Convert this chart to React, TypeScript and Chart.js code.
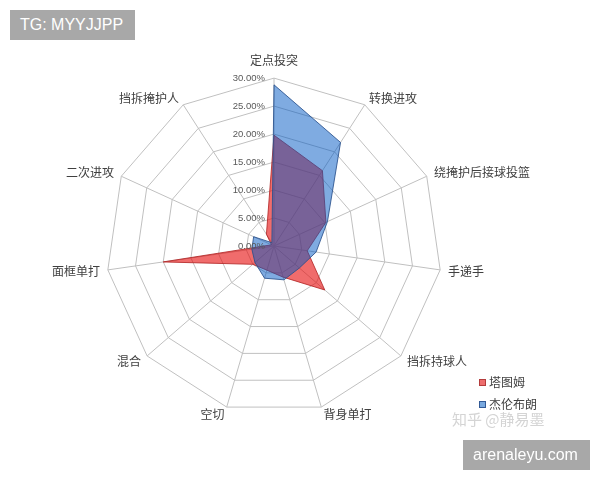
import React, { useEffect, useRef } from 'react';
import { Chart, registerables } from 'chart.js';

Chart.register(...registerables);

const categories = ['定点投突', '转换进攻', '绕掩护后接球投篮', '手递手', '挡拆持球人', '背身单打', '空切', '混合', '面框单打', '二次进攻', '挡拆掩护人'];
const seriesNames = ['塔图姆', '杰伦布朗'];
const tatumValues = [19.8, 16, 10.2, 6, 12, 5.8, 4.5, 5, 20, 0.5, 2.5];
const brownValues = [28.8, 22, 10.5, 7.6, 6, 6.3, 6, 4.5, 4, 4, 0.7];
const tickValues = [0, 5, 10, 15, 20, 25, 30];
const tickLabels = ['0.00%', '5.00%', '10.00%', '15.00%', '20.00%', '25.00%', '30.00%'];

const RED_FILL = 'rgba(230, 10, 10, 0.6)';
const RED_LINE = 'rgba(180, 40, 40, 0.85)';
const BLUE_FILL = 'rgba(0, 88, 196, 0.5)';
const BLUE_LINE = 'rgba(40, 80, 140, 0.85)';

const tickLabelPlugin = {
  id: 'tickLabelsLeft',
  afterDatasetsDraw(chart: any) {
    const scale = chart.scales.r;
    const ctx = chart.ctx;
    ctx.save();
    ctx.font = '9.5px "Liberation Sans", Arial, sans-serif';
    ctx.fillStyle = '#595959';
    ctx.textAlign = 'right';
    ctx.textBaseline = 'middle';
    tickValues.forEach((v, i) => {
      const d = scale.getDistanceFromCenterForValue(v);
      ctx.fillText(tickLabels[i], scale.xCenter - 9, scale.yCenter - d);
    });
    ctx.restore();
  },
};

function ChartCanvas() {
  const ref = useRef<HTMLCanvasElement | null>(null);
  useEffect(() => {
    if (!ref.current) return;
    const chart = new Chart(ref.current, {
      type: 'radar',
      data: {
        labels: categories,
        datasets: [
          {
            label: seriesNames[0],
            data: tatumValues,
            backgroundColor: RED_FILL,
            borderColor: RED_LINE,
            borderWidth: 1,
            pointRadius: 0,
            fill: true,
            order: 1,
          },
          {
            label: seriesNames[1],
            data: brownValues,
            backgroundColor: BLUE_FILL,
            borderColor: BLUE_LINE,
            borderWidth: 1,
            pointRadius: 0,
            fill: true,
            order: 0,
          },
        ],
      },
      options: {
        responsive: false,
        animation: false,
        layout: { padding: { left: 0, right: 52, top: 52, bottom: 56 } },
        plugins: {
          legend: { display: false },
          tooltip: { enabled: false },
        },
        elements: { line: { tension: 0 } },
        scales: {
          r: {
            min: 0,
            max: 30,
            ticks: { stepSize: 5, display: false },
            grid: { color: '#c0c0c0', lineWidth: 1 },
            angleLines: { color: '#c0c0c0', lineWidth: 1 },
            pointLabels: {
              color: '#404040',
              font: { size: 12, family: '"Noto Sans CJK SC", sans-serif', lineHeight: 0.01 },
              padding: (c: any) => (c.index === 0 ? 18 : 8),
            },
          },
        },
      },
      plugins: [tickLabelPlugin],
    });
    return () => chart.destroy();
  }, []);
  return <canvas ref={ref} width={600} height={480} style={{ display: 'block', position: 'absolute', left: 0, top: 0 }} />;
}

const boxStyle: React.CSSProperties = {
  position: 'absolute',
  background: '#a8a8a8',
  color: '#ffffff',
  fontFamily: '"Liberation Sans", Arial, sans-serif',
  fontSize: 16,
  lineHeight: '30px',
  height: 30,
  boxSizing: 'border-box',
  whiteSpace: 'nowrap',
};

export default function App() {
  return (
    <div style={{ position: 'fixed', left: 0, top: 0, width: 600, height: 480, background: '#ffffff', overflow: 'hidden' }}>
      <ChartCanvas />
      <div style={{ ...boxStyle, left: 10, top: 10, width: 125, paddingLeft: 10 }}>TG: MYYJJPP</div>
      <div style={{ position: 'absolute', left: 479, top: 373, fontFamily: '"Noto Sans CJK SC", sans-serif', fontSize: 12, color: '#404040', lineHeight: '18px' }}>
        <div style={{ display: 'flex', alignItems: 'center', height: 18 }}>
          <span style={{ width: 5, height: 5, background: 'rgb(238,110,110)', border: '1px solid rgb(180,60,60)', marginRight: 3, display: 'inline-block' }} />
          <span>{seriesNames[0]}</span>
        </div>
        <div style={{ display: 'flex', alignItems: 'center', height: 18, marginTop: 4 }}>
          <span style={{ width: 5, height: 5, background: 'rgb(120,168,222)', border: '1px solid rgb(50,90,150)', marginRight: 3, display: 'inline-block' }} />
          <span>{seriesNames[1]}</span>
        </div>
      </div>
      <div style={{ position: 'absolute', left: 452, top: 409, fontFamily: '"Noto Sans CJK SC", sans-serif', fontSize: 15, color: '#d4d4d4', whiteSpace: 'nowrap', lineHeight: '20px' }}>知乎 @静易墨</div>
      <div style={{ ...boxStyle, left: 463, top: 440, width: 127, paddingLeft: 10 }}>arenaleyu.com</div>
    </div>
  );
}
